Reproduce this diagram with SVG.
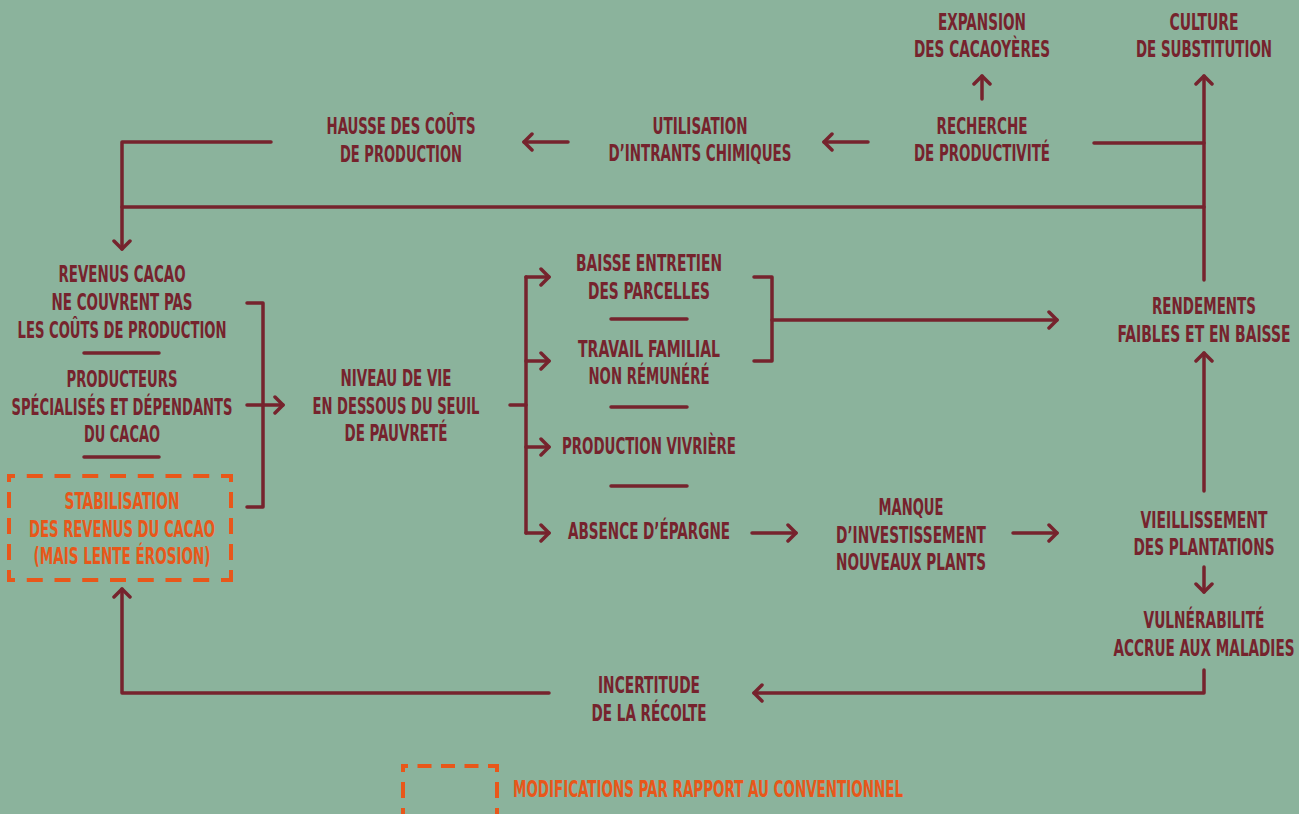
<svg xmlns="http://www.w3.org/2000/svg" width="1299" height="814" viewBox="0 0 1299 814">
<style>
text{font-family:"Liberation Sans Narrow","DejaVu Sans Condensed","Liberation Sans",sans-serif;font-weight:bold;font-size:23px;fill:#76232d;text-anchor:middle}
.o{fill:#e8571a}
.ln{fill:none;stroke:#76232d;stroke-width:3.5;stroke-linecap:round;stroke-linejoin:round}
.arr{marker-end:url(#ah)}
.sep{stroke:#76232d;stroke-width:3.5;stroke-linecap:round}
.d{fill:none;stroke:#e8571a;stroke-width:4;stroke-dashoffset:8}
.dh{stroke-dasharray:16 11.75}
.dv{stroke-dasharray:16 10}
.lh{stroke-dasharray:14 9.5;stroke-dashoffset:7}
</style>
<defs>
<marker id="ah" markerUnits="userSpaceOnUse" viewBox="0 0 14 20" refX="11" refY="10" markerWidth="14" markerHeight="20" orient="auto">
<path d="M3,2 L11,10 L3,18" fill="none" stroke="#76232d" stroke-width="3.5" stroke-linecap="round" stroke-linejoin="round"/>
</marker>
</defs>
<rect x="0" y="0" width="1299" height="814" fill="#8bb39c"/>

<g id="connectors">
<path class="ln arr" d="M271,142 H122 V249"/>
<path class="ln" d="M122,207 H1204"/>
<path class="ln" d="M1094,143 H1204"/>
<path class="ln arr" d="M1204,280 V76"/>
<path class="ln arr" d="M982,99 V76"/>
<path class="ln arr" d="M868,142 H824"/>
<path class="ln arr" d="M568,142 H524"/>
<path class="ln" d="M247,303 H263 V507 H247"/>
<path class="ln arr" d="M247,405 H283"/>
<path class="ln" d="M510,405 H526"/>
<path class="ln" d="M526,277 V533"/>
<path class="ln arr" d="M526,277 H549"/>
<path class="ln arr" d="M526,361 H549"/>
<path class="ln arr" d="M526,447 H549"/>
<path class="ln arr" d="M526,533 H549"/>
<path class="ln" d="M754,277 H772 V361 H754"/>
<path class="ln arr" d="M772,320 H1057"/>
<path class="ln arr" d="M752,533 H796"/>
<path class="ln arr" d="M1013,533 H1057"/>
<path class="ln arr" d="M1204,491 V353"/>
<path class="ln arr" d="M1204,567 V592"/>
<path class="ln arr" d="M1204,670 V693 H754"/>
<path class="ln arr" d="M549,693 H122 V589"/>
</g>

<g id="expansion">
<text x="982" y="30" textLength="88" lengthAdjust="spacingAndGlyphs">EXPANSION</text>
<text x="982" y="57" textLength="136" lengthAdjust="spacingAndGlyphs">DES CACAOYÈRES</text>
</g>
<g id="culture">
<text x="1204" y="30" textLength="69" lengthAdjust="spacingAndGlyphs">CULTURE</text>
<text x="1204" y="57" textLength="136" lengthAdjust="spacingAndGlyphs">DE SUBSTITUTION</text>
</g>
<g id="recherche">
<text x="982" y="134" textLength="91" lengthAdjust="spacingAndGlyphs">RECHERCHE</text>
<text x="982" y="161" textLength="136" lengthAdjust="spacingAndGlyphs">DE PRODUCTIVITÉ</text>
</g>
<g id="utilisation">
<text x="700" y="134" textLength="95" lengthAdjust="spacingAndGlyphs">UTILISATION</text>
<text x="700" y="161" textLength="183" lengthAdjust="spacingAndGlyphs">D’INTRANTS CHIMIQUES</text>
</g>
<g id="hausse">
<text x="401" y="134" textLength="149" lengthAdjust="spacingAndGlyphs">HAUSSE DES COÛTS</text>
<text x="401" y="162" textLength="122" lengthAdjust="spacingAndGlyphs">DE PRODUCTION</text>
</g>
<g id="revenus">
<text x="122" y="282" textLength="127" lengthAdjust="spacingAndGlyphs">REVENUS CACAO</text>
<text x="122" y="310" textLength="141" lengthAdjust="spacingAndGlyphs">NE COUVRENT PAS</text>
<text x="122" y="338" textLength="209" lengthAdjust="spacingAndGlyphs">LES COÛTS DE PRODUCTION</text>
<line class="sep" x1="84" y1="353" x2="159" y2="353"/>
</g>
<g id="producteurs">
<text x="122" y="387" textLength="111" lengthAdjust="spacingAndGlyphs">PRODUCTEURS</text>
<text x="122" y="415" textLength="221" lengthAdjust="spacingAndGlyphs">SPÉCIALISÉS ET DÉPENDANTS</text>
<text x="122" y="442" textLength="76" lengthAdjust="spacingAndGlyphs">DU CACAO</text>
<line class="sep" x1="84" y1="457" x2="159" y2="457"/>
</g>
<g id="stabilisation">
<path class="d dh" d="M7,476 H233 M7,580 H233"/>
<path class="d dv" d="M9,474 V582 M231,474 V582"/>
<text class="o" x="122" y="509" textLength="115" lengthAdjust="spacingAndGlyphs">STABILISATION</text>
<text class="o" x="122" y="537" textLength="186" lengthAdjust="spacingAndGlyphs">DES REVENUS DU CACAO</text>
<text class="o" x="122" y="564" textLength="177" lengthAdjust="spacingAndGlyphs">(MAIS LENTE ÉROSION)</text>
</g>
<g id="niveau">
<text x="396" y="386" textLength="111" lengthAdjust="spacingAndGlyphs">NIVEAU DE VIE</text>
<text x="396" y="414" textLength="167" lengthAdjust="spacingAndGlyphs">EN DESSOUS DU SEUIL</text>
<text x="396" y="441" textLength="103" lengthAdjust="spacingAndGlyphs">DE PAUVRETÉ</text>
</g>
<g id="baisse">
<text x="649" y="271" textLength="146" lengthAdjust="spacingAndGlyphs">BAISSE ENTRETIEN</text>
<text x="649" y="299" textLength="122" lengthAdjust="spacingAndGlyphs">DES PARCELLES</text>
<line class="sep" x1="611" y1="319" x2="687" y2="319"/>
</g>
<g id="travail">
<text x="649" y="357" textLength="142" lengthAdjust="spacingAndGlyphs">TRAVAIL FAMILIAL</text>
<text x="649" y="384" textLength="121" lengthAdjust="spacingAndGlyphs">NON RÉMUNÉRÉ</text>
<line class="sep" x1="611" y1="407" x2="687" y2="407"/>
</g>
<g id="vivriere">
<text x="649" y="454" textLength="174" lengthAdjust="spacingAndGlyphs">PRODUCTION VIVRIÈRE</text>
<line class="sep" x1="611" y1="486" x2="687" y2="486"/>
</g>
<g id="absence">
<text x="649" y="539" textLength="162" lengthAdjust="spacingAndGlyphs">ABSENCE D’ÉPARGNE</text>
</g>
<g id="manque">
<text x="911" y="515" textLength="65" lengthAdjust="spacingAndGlyphs">MANQUE</text>
<text x="911" y="543" textLength="150" lengthAdjust="spacingAndGlyphs">D’INVESTISSEMENT</text>
<text x="911" y="570" textLength="150" lengthAdjust="spacingAndGlyphs">NOUVEAUX PLANTS</text>
</g>
<g id="rendements">
<text x="1204" y="314" textLength="104" lengthAdjust="spacingAndGlyphs">RENDEMENTS</text>
<text x="1204" y="342" textLength="173" lengthAdjust="spacingAndGlyphs">FAIBLES ET EN BAISSE</text>
</g>
<g id="vieillissement">
<text x="1204" y="528" textLength="127" lengthAdjust="spacingAndGlyphs">VIEILLISSEMENT</text>
<text x="1204" y="555" textLength="141" lengthAdjust="spacingAndGlyphs">DES PLANTATIONS</text>
</g>
<g id="vulnerabilite">
<text x="1204" y="628" textLength="121" lengthAdjust="spacingAndGlyphs">VULNÉRABILITÉ</text>
<text x="1204" y="656" textLength="181" lengthAdjust="spacingAndGlyphs">ACCRUE AUX MALADIES</text>
</g>
<g id="incertitude">
<text x="649" y="693" textLength="102" lengthAdjust="spacingAndGlyphs">INCERTITUDE</text>
<text x="649" y="721" textLength="115" lengthAdjust="spacingAndGlyphs">DE LA RÉCOLTE</text>
</g>
<g id="legend">
<path class="d lh" d="M401,766 H499"/>
<path class="d dv" d="M403,764 V830 M497,764 V830"/>
<text class="o" x="513" y="797" style="text-anchor:start" textLength="390" lengthAdjust="spacingAndGlyphs">MODIFICATIONS PAR RAPPORT AU CONVENTIONNEL</text>
</g>
</svg>
